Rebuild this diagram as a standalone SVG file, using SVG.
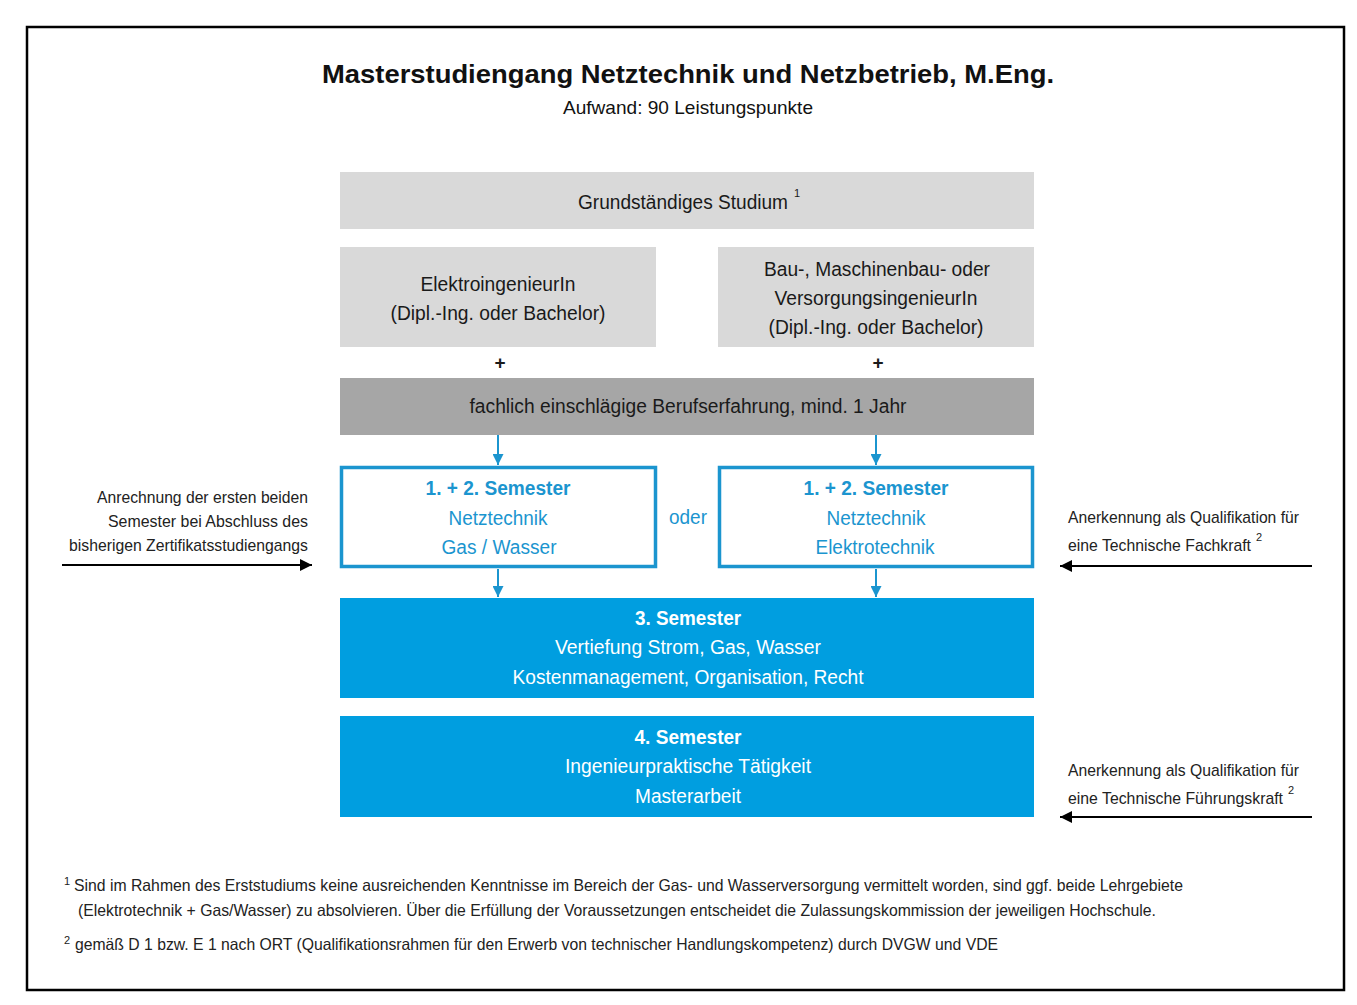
<svg xmlns="http://www.w3.org/2000/svg" width="1357" height="1005" viewBox="0 0 1357 1005">
<style>
text{font-family:"Liberation Sans",Arial,sans-serif;}
.t{font-size:20px;fill:#1a1a1a;text-anchor:middle;}
.b{font-size:20px;font-weight:bold;text-anchor:middle;}
.bl{fill:#1b95cf;}
.w{fill:#ffffff;}
.a{font-size:17px;fill:#222;}
.f{font-size:16.5px;fill:#222;}
.sup{font-size:11px;fill:#222;}
.grey{fill:#d9d9d9;}
.dark{fill:#a6a6a6;}
.sem{fill:#ffffff;stroke:#1b95cf;stroke-width:3.5;}
.blue{fill:#009ee0;}
.conn{stroke:#1b95cf;stroke-width:2;fill:none;}
.blk{stroke:#000;stroke-width:2;fill:none;}
</style>
<defs>
<marker id="ab" viewBox="0 0 10 10" refX="10" refY="5" markerWidth="5.5" markerHeight="5.5" orient="auto" markerUnits="strokeWidth">
<path d="M0,0 L10,5 L0,10 z" fill="#1b95cf"/>
</marker>
<marker id="ak" viewBox="0 0 10 10" refX="10" refY="5" markerWidth="6.5" markerHeight="6" orient="auto" markerUnits="strokeWidth">
<path d="M0,0 L10,5 L0,10 z" fill="#000"/>
</marker>
</defs>
<rect x="0" y="0" width="1357" height="1005" fill="#fff"/>
<rect x="27" y="27" width="1317" height="963" fill="none" stroke="#000" stroke-width="2.5"/>

<g id="title">
<text x="688" y="83" style="font-size:25px;font-weight:bold;fill:#111;text-anchor:middle" textLength="732" lengthAdjust="spacingAndGlyphs">Masterstudiengang Netztechnik und Netzbetrieb, M.Eng.</text>
<text x="688" y="114" style="font-size:19px;fill:#111;text-anchor:middle" textLength="250" lengthAdjust="spacingAndGlyphs">Aufwand: 90 Leistungspunkte</text>
</g>

<g id="grund">
<rect class="grey" x="340" y="172" width="694" height="57"/>
<text x="578" y="209" style="font-size:20px;fill:#1a1a1a"><tspan textLength="210" lengthAdjust="spacingAndGlyphs">Grundständiges Studium</tspan><tspan dx="6" dy="-12" style="font-size:11px">1</tspan></text>
</g>

<g id="elektro">
<rect class="grey" x="340" y="247" width="316" height="100"/>
<text class="t" x="498" y="291" textLength="155" lengthAdjust="spacingAndGlyphs">ElektroingenieurIn</text>
<text class="t" x="498" y="320" textLength="215" lengthAdjust="spacingAndGlyphs">(Dipl.-Ing. oder Bachelor)</text>
</g>

<g id="bau">
<rect class="grey" x="718" y="247" width="316" height="100"/>
<text class="t" x="877" y="276" textLength="226" lengthAdjust="spacingAndGlyphs">Bau-, Maschinenbau- oder</text>
<text class="t" x="876" y="305" textLength="203" lengthAdjust="spacingAndGlyphs">VersorgungsingenieurIn</text>
<text class="t" x="876" y="334" textLength="215" lengthAdjust="spacingAndGlyphs">(Dipl.-Ing. oder Bachelor)</text>
</g>

<g id="plus">
<text class="t" x="500" y="369" style="font-size:19px;font-weight:bold">+</text>
<text class="t" x="878" y="369" style="font-size:19px;font-weight:bold">+</text>
</g>

<g id="beruf">
<rect class="dark" x="340" y="378" width="694" height="57"/>
<text class="t" x="688" y="413" textLength="437" lengthAdjust="spacingAndGlyphs">fachlich einschlägige Berufserfahrung, mind. 1 Jahr</text>
</g>

<g id="sem12gas">
<rect class="sem" x="341.5" y="467.5" width="314" height="99"/>
<text class="b bl" x="498" y="495" textLength="145" lengthAdjust="spacingAndGlyphs">1. + 2. Semester</text>
<text class="t bl" x="498" y="525" textLength="99" lengthAdjust="spacingAndGlyphs">Netztechnik</text>
<text class="t bl" x="499" y="554" textLength="115" lengthAdjust="spacingAndGlyphs">Gas / Wasser</text>
</g>

<g id="oder">
<text class="t bl" x="688" y="524" textLength="38" lengthAdjust="spacingAndGlyphs">oder</text>
</g>

<g id="sem12elektro">
<rect class="sem" x="719.5" y="467.5" width="313" height="99"/>
<text class="b bl" x="876" y="495" textLength="145" lengthAdjust="spacingAndGlyphs">1. + 2. Semester</text>
<text class="t bl" x="876" y="525" textLength="99" lengthAdjust="spacingAndGlyphs">Netztechnik</text>
<text class="t bl" x="875" y="554" textLength="119" lengthAdjust="spacingAndGlyphs">Elektrotechnik</text>
</g>

<g id="sem3">
<rect class="blue" x="340" y="598" width="694" height="100"/>
<text class="b w" x="688" y="625" textLength="106" lengthAdjust="spacingAndGlyphs">3. Semester</text>
<text class="t w" x="688" y="654" textLength="266" lengthAdjust="spacingAndGlyphs">Vertiefung Strom, Gas, Wasser</text>
<text class="t w" x="688" y="684" textLength="351" lengthAdjust="spacingAndGlyphs">Kostenmanagement, Organisation, Recht</text>
</g>

<g id="sem4">
<rect class="blue" x="340" y="716" width="694" height="101"/>
<text class="b w" x="688" y="744" textLength="107" lengthAdjust="spacingAndGlyphs">4. Semester</text>
<text class="t w" x="688" y="773" textLength="246" lengthAdjust="spacingAndGlyphs">Ingenieurpraktische Tätigkeit</text>
<text class="t w" x="688" y="803" textLength="106" lengthAdjust="spacingAndGlyphs">Masterarbeit</text>
</g>

<g id="anrechnung">
<text class="a" x="308" y="503" text-anchor="end" textLength="211" lengthAdjust="spacingAndGlyphs">Anrechnung der ersten beiden</text>
<text class="a" x="308" y="527" text-anchor="end" textLength="200" lengthAdjust="spacingAndGlyphs">Semester bei Abschluss des</text>
<text class="a" x="308" y="551" text-anchor="end" textLength="239" lengthAdjust="spacingAndGlyphs">bisherigen Zertifikatsstudiengangs</text>
</g>

<g id="fachkraft">
<text class="a" x="1068" y="523" textLength="231" lengthAdjust="spacingAndGlyphs">Anerkennung als Qualifikation für</text>
<text class="a" x="1068" y="551"><tspan textLength="183" lengthAdjust="spacingAndGlyphs">eine Technische Fachkraft</tspan><tspan dx="5" dy="-10" style="font-size:11px">2</tspan></text>
</g>

<g id="fuehrungskraft">
<text class="a" x="1068" y="776" textLength="231" lengthAdjust="spacingAndGlyphs">Anerkennung als Qualifikation für</text>
<text class="a" x="1068" y="804"><tspan textLength="215" lengthAdjust="spacingAndGlyphs">eine Technische Führungskraft</tspan><tspan dx="5" dy="-10" style="font-size:11px">2</tspan></text>
</g>

<g id="connectors">
<line class="conn" x1="498" y1="435" x2="498" y2="465" marker-end="url(#ab)"/>
<line class="conn" x1="876" y1="435" x2="876" y2="465" marker-end="url(#ab)"/>
<line class="conn" x1="498" y1="569" x2="498" y2="597" marker-end="url(#ab)"/>
<line class="conn" x1="876" y1="569" x2="876" y2="597" marker-end="url(#ab)"/>
<line class="blk" x1="62" y1="565" x2="312" y2="565" marker-end="url(#ak)"/>
<line class="blk" x1="1312" y1="566" x2="1060" y2="566" marker-end="url(#ak)"/>
<line class="blk" x1="1312" y1="817" x2="1060" y2="817" marker-end="url(#ak)"/>
</g>

<g id="footnotes">
<text class="sup" x="64" y="885">1</text>
<text class="f" x="74" y="891" textLength="1109" lengthAdjust="spacingAndGlyphs">Sind im Rahmen des Erststudiums keine ausreichenden Kenntnisse im Bereich der Gas- und Wasserversorgung vermittelt worden, sind ggf. beide Lehrgebiete</text>
<text class="f" x="78" y="916" textLength="1078" lengthAdjust="spacingAndGlyphs">(Elektrotechnik + Gas/Wasser) zu absolvieren. Über die Erfüllung der Voraussetzungen entscheidet die Zulassungskommission der jeweiligen Hochschule.</text>
<text class="sup" x="64" y="944">2</text>
<text class="f" x="75" y="950" textLength="923" lengthAdjust="spacingAndGlyphs">gemäß D 1 bzw. E 1 nach ORT (Qualifikationsrahmen für den Erwerb von technischer Handlungskompetenz) durch DVGW und VDE</text>
</g>
</svg>
